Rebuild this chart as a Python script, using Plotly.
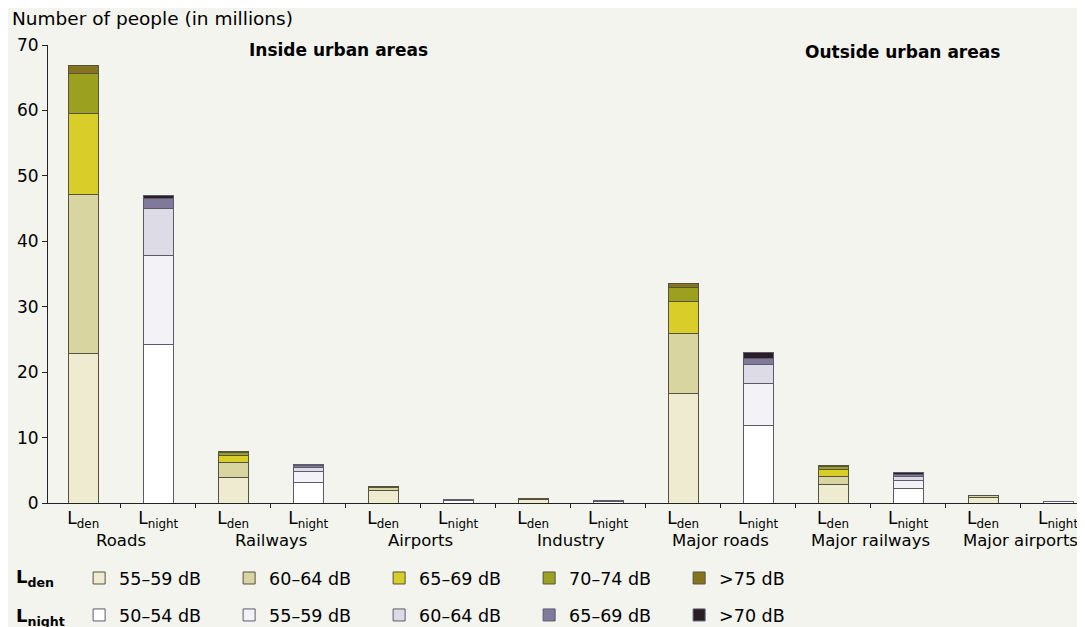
import plotly.graph_objects as go

# number of people exposed (millions)
groups = ["Roads", "Railways", "Airports", "Industry", "Major roads", "Major railways", "Major airports"]

lden_labels = ["55–59 dB", "60–64 dB", "65–69 dB", "70–74 dB", ">75 dB"]
lden_55_59 = [22.8, 3.9, 1.9, 0.5, 16.7, 2.9, 0.9]
lden_60_64 = [24.3, 2.3, 0.4, 0.2, 9.2, 1.2, 0.25]
lden_65_69 = [12.5, 1.0, 0.1, 0.05, 4.9, 1.05, 0.05]
lden_70_74 = [6.1, 0.5, 0.05, 0, 2.1, 0.45, 0]
lden_75 = [1.1, 0.2, 0, 0, 0.7, 0.2, 0]

lnight_labels = ["50–54 dB", "55–59 dB", "60–64 dB", "65–69 dB", ">70 dB"]
lnight_50_54 = [24.2, 3.1, 0.4, 0.25, 11.8, 2.25, 0.25]
lnight_55_59 = [13.7, 1.7, 0.15, 0.1, 6.5, 1.25, 0.05]
lnight_60_64 = [7.1, 0.7, 0.05, 0, 2.9, 0.5, 0]
lnight_65_69 = [1.6, 0.3, 0, 0, 0.9, 0.3, 0]
lnight_70 = [0.4, 0.1, 0, 0, 0.9, 0.3, 0]

lden_colors = ["#efebd0", "#d9d5a0", "#d9cd2a", "#9ba11f", "#85731e"]
lnight_colors = ["#ffffff", "#f3f3f7", "#dddbe6", "#7f7a99", "#2a1e26"]

bg = "#f3f4ee"
font = "DejaVu Sans"

lden_pos = [2 * i for i in range(len(groups))]
lnight_pos = [2 * i + 1 for i in range(len(groups))]

fig = go.Figure()

lden_series = [lden_55_59, lden_60_64, lden_65_69, lden_70_74, lden_75]
for vals, name, col in zip(lden_series, lden_labels, lden_colors):
    fig.add_trace(go.Bar(
        x=lden_pos, y=[v if v else None for v in vals], name=name,
        marker=dict(color=col, line=dict(color="#55533f", width=1)),
        width=0.4, legend="legend",
    ))

lnight_series = [lnight_50_54, lnight_55_59, lnight_60_64, lnight_65_69, lnight_70]
for vals, name, col in zip(lnight_series, lnight_labels, lnight_colors):
    fig.add_trace(go.Bar(
        x=lnight_pos, y=[v if v else None for v in vals], name=name,
        marker=dict(color=col, line=dict(color="#5d5a6e", width=1)),
        width=0.4, legend="legend2",
    ))

ticktext = []
for g in groups:
    ticktext += ["L<sub>den</sub>", "L<sub>night</sub>"]

annotations = []
for i, g in enumerate(groups):
    annotations.append(dict(
        x=2 * i + 0.5, xref="x", y=-0.081, yref="paper", text=g, showarrow=False,
        xanchor="center", yanchor="middle", font=dict(size=16.5, color="black", family=font),
    ))

annotations += [
    dict(x=-0.037, xref="paper", y=1.057, yref="paper", text="Number of people (in millions)",
         showarrow=False, xanchor="left", yanchor="middle", font=dict(size=18.5, color="black", family=font)),
    dict(x=3.4, xref="x", y=69.3, yref="y", text="<b>Inside urban areas</b>",
         showarrow=False, xanchor="center", yanchor="middle", font=dict(size=17, color="black", family=font)),
    dict(x=10.92, xref="x", y=69.0, yref="y", text="<b>Outside urban areas</b>",
         showarrow=False, xanchor="center", yanchor="middle", font=dict(size=17, color="black", family=font)),
    dict(x=-0.033, xref="paper", y=-0.164, yref="paper", text="<b>L<sub>den</sub></b>",
         showarrow=False, xanchor="left", yanchor="middle", font=dict(size=18, color="black", family=font)),
    dict(x=-0.033, xref="paper", y=-0.249, yref="paper", text="<b>L<sub>night</sub></b>",
         showarrow=False, xanchor="left", yanchor="middle", font=dict(size=18, color="black", family=font)),
]

legend_style = dict(
    orientation="h", xanchor="left", x=0.03,
    entrywidth=105, entrywidthmode="pixels", traceorder="normal",
    bgcolor="rgba(0,0,0,0)", font=dict(size=17.5, color="black", family=font),
    itemclick=False, itemdoubleclick=False,
)

# the page body adds an 8px margin, so the plot is drawn 8px up and left
fig.update_layout(
    width=1077, height=627,
    margin=dict(l=40, r=0, t=37, b=132),
    paper_bgcolor=bg, plot_bgcolor=bg,
    barmode="stack",
    font=dict(family=font, color="black"),
    legend=dict(legend_style, y=-0.164, yanchor="middle"),
    # bottom-anchored near the figure edge so it does not push the plot up
    legend2=dict(legend_style, y=-0.284, yanchor="bottom"),
    annotations=annotations,
    xaxis=dict(
        range=[-0.47, 13.36], tickmode="array", tickvals=list(range(14)), ticktext=ticktext,
        ticks="", showline=True, linecolor="#222", linewidth=1, showgrid=False, zeroline=False,
        tickfont=dict(size=17, color="black", family=font),
        minor=dict(tick0=0.5, dtick=1, ticks="outside", ticklen=4, tickcolor="#222"),
    ),
    yaxis=dict(
        range=[0, 70], dtick=10, ticks="outside", ticklen=5, tickcolor="#222",
        showline=True, linecolor="#222", linewidth=1, showgrid=False, zeroline=False,
        tickfont=dict(size=17, color="black", family=font),
    ),
)

fig.write_html("out.html")
